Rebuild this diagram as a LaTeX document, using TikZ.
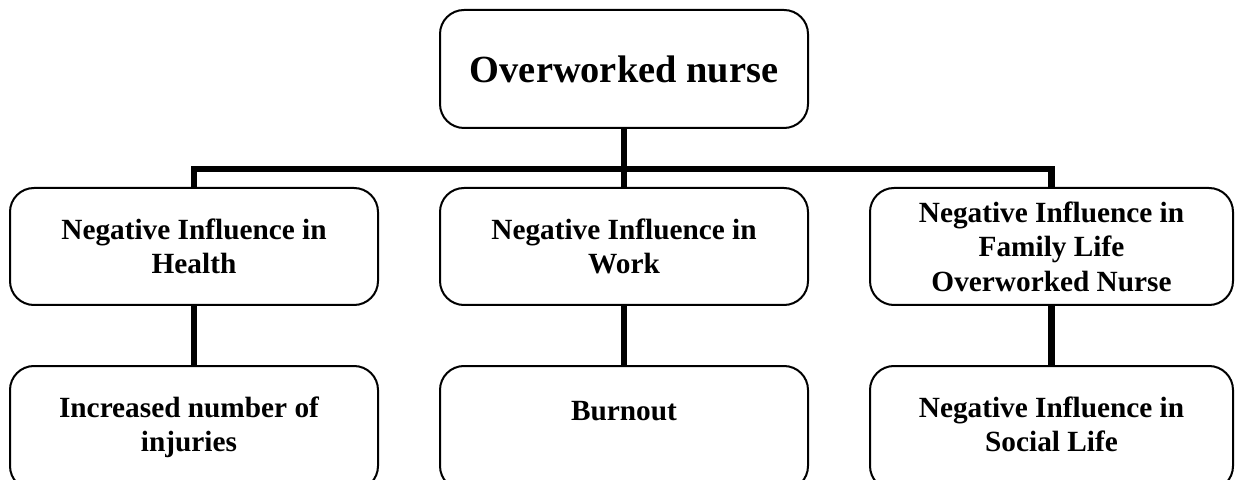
\documentclass[tikz,border=0pt]{standalone}
\usepackage{fontspec}
\setmainfont{Liberation Serif}
\usepackage{tikz}

\tikzset{
  box/.style={draw, line width=1pt, rounded corners=12pt, align=center, inner sep=0pt,
    minimum width=184pt, minimum height=58.5pt,
    font=\bfseries\fontsize{14.65}{17.25}\selectfont},
  boxtext/.style={align=center, inner sep=0pt, anchor=north,
    font=\bfseries\fontsize{14.65}{17.25}\selectfont},
  link/.style={line width=3.3pt, line join=miter}
}

\begin{document}
\begin{tikzpicture}[x=0.5pt, y=-0.5pt]
\useasboundingbox (0,0) rectangle (1235,480);
\clip (0,0) rectangle (1235,480);
\node[box, minimum height=59pt, font=\bfseries\fontsize{19.2}{23}\selectfont] (nurse) at (624,69) {Overworked nurse};
\node[box] (health) at (194,246.5) {Negative Influence in\\Health};
\node[box] (work) at (624,246.5) {Negative Influence in\\Work};
\node[box, minimum width=181.5pt] (family) at (1051.5,246.5) {Negative Influence in\\Family Life\\Overworked Nurse};
% bottom row, boxes run past the lower edge
\node[box, minimum height=62pt] (injuries) at (194,428) {};
\node[box, minimum height=62pt] (burnout) at (624,428) {};
\node[box, minimum width=181.5pt, minimum height=62pt] (social) at (1051.5,428) {};
\node[boxtext] at ([xshift=-2.5pt, yshift=-15.5pt]injuries.north) {Increased number of\\injuries};
\node[boxtext] at ([yshift=-18pt]burnout.north) {Burnout};
\node[boxtext] at ([yshift=-15.5pt]social.north) {Negative Influence in\\Social Life};
% connectors
\coordinate (bar) at (0,169);
\draw[link] (nurse.south) -- (nurse.south |- bar);
\draw[link] (health.north) -- (health.north |- bar) -- (family.north |- bar) -- (family.north);
\draw[link] (work.north |- bar) -- (work.north);
\foreach \a/\b in {health/injuries, work/burnout, family/social}
  \draw[link] (\a.south) -- (\b.north);
\end{tikzpicture}
\end{document}
